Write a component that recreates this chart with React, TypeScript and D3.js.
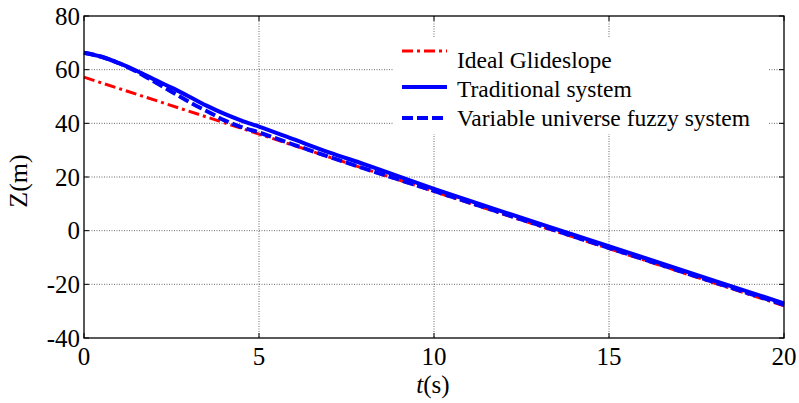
import { useEffect } from 'react'
import { scaleLinear, line, curveMonotoneX } from 'd3'

const tIdeal = [0, 5, 10, 15, 20]
const zIdeal = [57.2, 36.0, 14.6, -6.7, -28]

const tTrad = [0, 0.5, 1, 1.5, 2, 2.5, 3, 3.5, 4, 4.5, 5, 6, 7, 8, 10, 12, 14, 16, 18, 20]
const zTrad = [66.3, 64.8, 62.4, 59.6, 56.4, 53.3, 50.0, 46.6, 43.6, 41.0, 38.8, 34.0, 29.2, 24.8, 15.6, 6.9, -1.6, -10.1, -18.6, -27.1]

const tFuzzy = [0, 0.5, 1, 1.5, 2, 2.5, 3, 3.5, 4, 4.5, 5, 6, 7, 8, 10, 12, 14, 16, 18, 20]
const zFuzzy = [66.3, 64.8, 62.4, 59.3, 55.6, 51.8, 48.0, 44.6, 41.2, 38.6, 36.6, 32.0, 27.5, 23.2, 14.8, 6.3, -2.2, -10.7, -19.2, -27.6]

const xTicks = [0, 5, 10, 15, 20]
const yTicks = [-40, -20, 0, 20, 40, 60, 80]

const legendLabels = ['Ideal Glideslope', 'Traditional system', 'Variable universe fuzzy system']

const W = 799
const H = 403
const left = 84
const right = 784
const top = 16
const bottom = 338

const font = 'Liberation Serif, serif'

const App = () => {
  useEffect(() => {
    document.body.style.margin = '0'
  }, [])

  const x = scaleLinear().domain([0, 20]).range([left, right])
  const y = scaleLinear().domain([-40, 80]).range([bottom, top])

  const path = (ts: number[], zs: number[]) =>
    line<number>().curve(curveMonotoneX).x((d, i) => x(ts[i])).y(d => y(d))(zs) || ''

  const series = [
    { path: path(tIdeal, zIdeal), color: '#ff0000', width: 3, dash: '11,4,3,4' },
    { path: path(tTrad, zTrad), color: '#0000ff', width: 4, dash: '' },
    { path: path(tFuzzy, zFuzzy), color: '#0000ff', width: 4, dash: '11,4' },
  ]

  const legendLineY = [51, 87, 118]
  const legendTextY = [68, 97, 126]

  return (
    <svg width={W} height={H} style={{ display: 'block', background: '#fff' }} fontFamily={font}>
      {xTicks.slice(1, -1).map(t => (
        <line key={'gx' + t} x1={x(t)} x2={x(t)} y1={top} y2={bottom} stroke="#444" strokeWidth={0.8} strokeDasharray="1,1.5" />
      ))}
      {yTicks.slice(1, -1).map(v => (
        <line key={'gy' + v} x1={left} x2={right} y1={y(v)} y2={y(v)} stroke="#444" strokeWidth={0.8} strokeDasharray="1,1.5" />
      ))}

      {series.map((s, i) => (
        <path key={i} d={s.path} fill="none" stroke={s.color} strokeWidth={s.width} strokeDasharray={s.dash || undefined} />
      ))}

      <rect x={394} y={37} width={374} height={97} fill="#fff" />
      {series.map((s, i) => (
        <g key={'lg' + i}>
          <line x1={402} x2={447} y1={legendLineY[i]} y2={legendLineY[i]} stroke={s.color} strokeWidth={s.width} strokeDasharray={s.dash || undefined} />
          <text x={457} y={legendTextY[i]} fontSize={23.5} fill="#000">{legendLabels[i]}</text>
        </g>
      ))}

      {xTicks.map(t => (
        <g key={'tx' + t}>
          <line x1={x(t)} x2={x(t)} y1={bottom} y2={bottom - 5} stroke="#000" />
          <line x1={x(t)} x2={x(t)} y1={top} y2={top + 5} stroke="#000" />
          <text x={x(t)} y={365} textAnchor="middle" fontSize={25}>{t}</text>
        </g>
      ))}
      {yTicks.map(v => (
        <g key={'ty' + v}>
          <line x1={left} x2={left + 5} y1={y(v)} y2={y(v)} stroke="#000" />
          <line x1={right} x2={right - 5} y1={y(v)} y2={y(v)} stroke="#000" />
          <text x={80} y={y(v)} dy="0.35em" textAnchor="end" fontSize={25}>{v}</text>
        </g>
      ))}

      <rect x={left} y={top} width={right - left} height={bottom - top} fill="none" stroke="#000" strokeWidth={1.3} />

      <text x={433} y={393} textAnchor="middle" fontSize={25}>
        <tspan fontStyle="italic">t</tspan>(s)
      </text>
      <text transform="translate(27,181) rotate(-90)" textAnchor="middle" fontSize={26}>Z(m)</text>
    </svg>
  )
}

export default App
